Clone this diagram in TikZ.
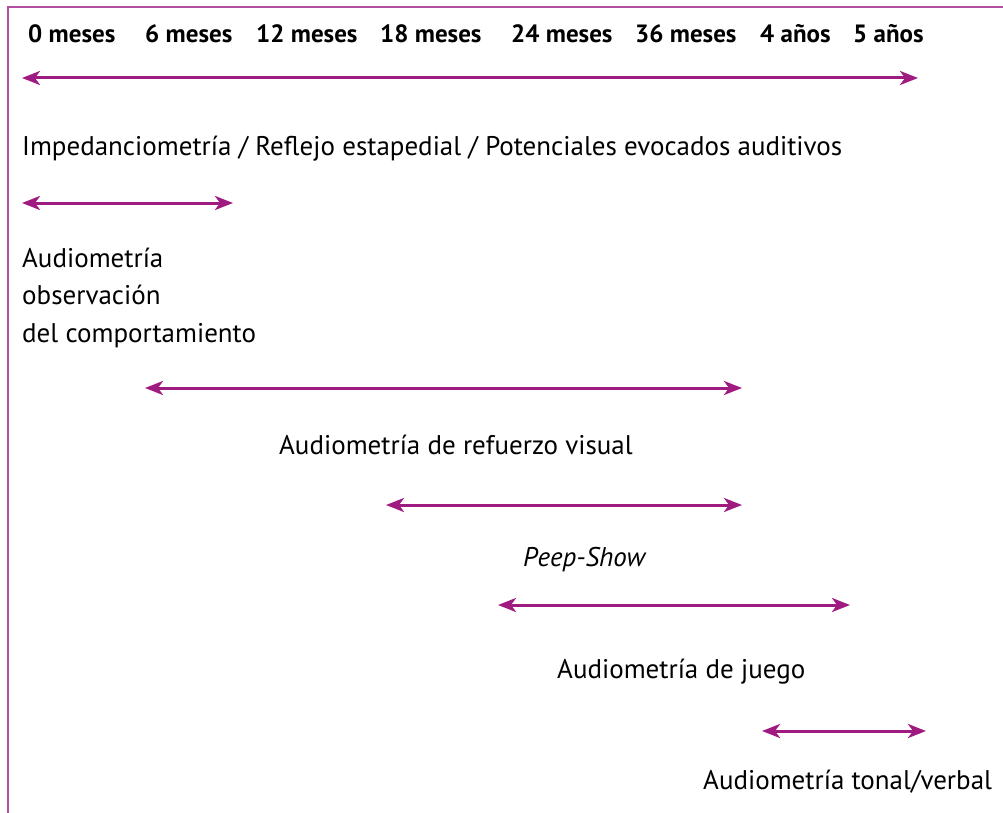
\documentclass[tikz,border=0pt]{standalone}
\usepackage{fontspec}
\setmainfont{PT Sans}
\usepackage{tikz}
\usetikzlibrary{arrows.meta}
\definecolor{magenta1}{RGB}{160,27,128}
\definecolor{framecol}{RGB}{176,80,158}

\begin{document}
\begin{tikzpicture}[x=1pt, y=-1pt,
% estilos
rango/.style={draw=magenta1, line width=3pt, {Stealth[length=18pt, width=14pt, inset=5pt]}-{Stealth[length=18pt, width=14pt, inset=5pt]}},
edad/.style={anchor=base west, inner sep=0pt, font=\fontsize{25}{30}\selectfont\bfseries},
prueba/.style={anchor=base west, inner sep=0pt, font=\fontsize{27}{37.5}\selectfont, align=left},
]
\useasboundingbox (0,0) rectangle (1003,813);
% marco
\draw[framecol, line width=1.6pt] (1003,7) -- (8,7) -- (8,813);

% edades
\node[edad] (m0)  at (28,43)  {0 meses};
\node[edad] (m6)  at (145,43) {6 meses};
\node[edad] (m12) at (256,43) {12 meses};
\node[edad] (m18) at (380,43) {18 meses};
\node[edad] (m24) at (511,43) {24 meses};
\node[edad] (m36) at (635,43) {36 meses};
\node[edad] (a4)  at (760,43) {4 años};
\node[edad] (a5)  at (853,43) {5 años};

% extremos de las flechas
\coordinate (i1) at (22,78);   \coordinate (f1) at (918,78);
\coordinate (i2) at (22,203);  \coordinate (f2) at (233,203);
\coordinate (i3) at (145,388); \coordinate (f3) at (742,388);
\coordinate (i4) at (386,505); \coordinate (f4) at (742,505);
\coordinate (i5) at (498,605); \coordinate (f5) at (850,605);
\coordinate (i6) at (762,731); \coordinate (f6) at (926,731);

% pruebas
\node[prueba] (imp)   at (22,156)  {Impedanciometría / Reflejo estapedial / Potenciales evocados auditivos};
\node[prueba] (obs)   at (22,342)  {Audiometría\\observación\\del comportamiento};
\node[prueba] (vis)   at (279,454) {Audiometría de refuerzo visual};
\node[prueba] (peep)  at (523,566) {\itshape Peep-Show};
\node[prueba] (juego) at (557,678) {Audiometría de juego};
\node[prueba] (tonal) at (703,789) {Audiometría tonal/verbal};

% flechas
\draw[rango] (i1) -- (f1);
\draw[rango] (i2) -- (f2);
\draw[rango] (i3) -- (f3);
\draw[rango] (i4) -- (f4);
\draw[rango] (i5) -- (f5);
\draw[rango] (i6) -- (f6);

\end{tikzpicture}
\end{document}
